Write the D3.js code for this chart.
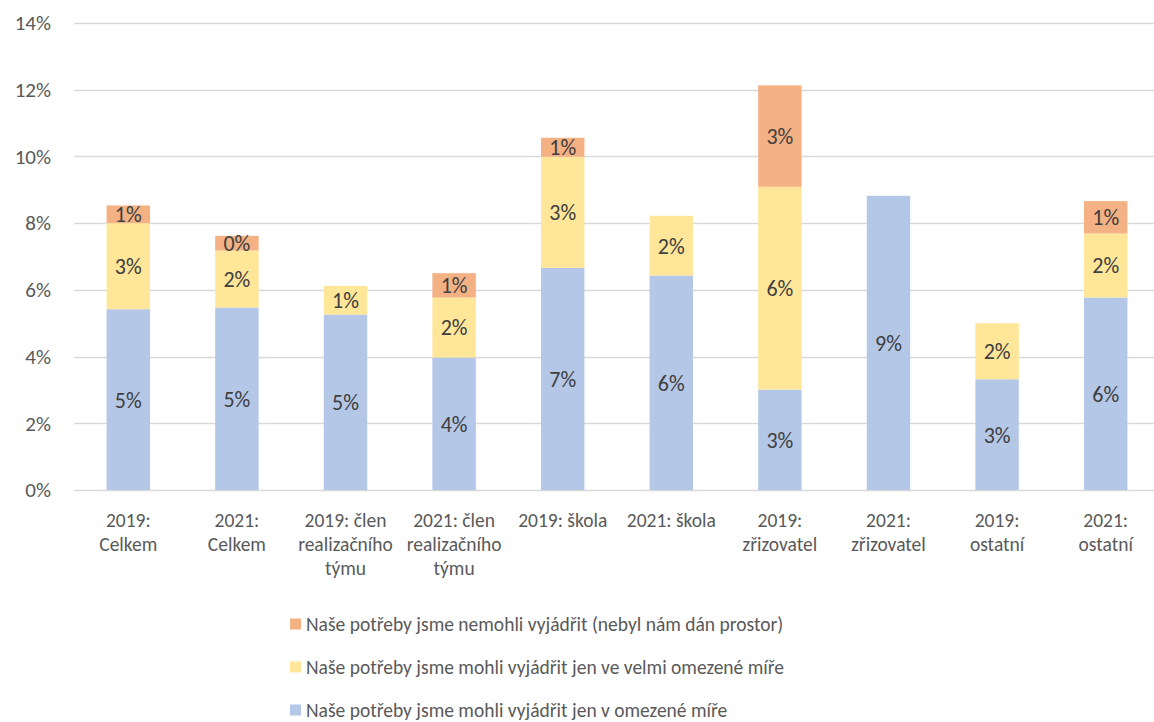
<!DOCTYPE html>
<html>
<head>
<meta charset="utf-8">
<script src="https://cdn.jsdelivr.net/npm/d3@7"></script>
<style>
  body { margin: 0; background: #fff; }
  text { font-family: Carlito, Calibri, Lato, sans-serif; }
</style>
</head>
<body>
<div id="chart"></div>
<script>
// categories (x axis), "\n" marks where the label wraps
var categories = ["2019:\nCelkem", "2021:\nCelkem", "2019: člen\nrealizačního\ntýmu", "2021: člen\nrealizačního\ntýmu",
  "2019: škola", "2021: škola", "2019:\nzřizovatel", "2021:\nzřizovatel", "2019:\nostatní", "2021:\nostatní"];

// series, values in %
var omezene      = [5.42, 5.47, 5.26, 3.97, 6.66, 6.43, 3.01, 8.82, 3.32, 5.77];
var velmiOmezene = [2.58, 1.71, 0.86, 1.80, 3.33, 1.79, 6.08, 0,    1.68, 1.92];
var nemohli      = [0.53, 0.44, 0,    0.73, 0.57, 0,    3.04, 0,    0,    0.97];

var seriesNames = [
  "Naše potřeby jsme mohli vyjádřit jen v omezené míře",
  "Naše potřeby jsme mohli vyjádřit jen ve velmi omezené míře",
  "Naše potřeby jsme nemohli vyjádřit (nebyl nám dán prostor)"
];
var yTicks = [0, 2, 4, 6, 8, 10, 12, 14];

var colors = ["#B4C7E7", "#FFE699", "#F4B183"];

var width = 1154, height = 722;

var svg = d3.select("#chart").append("svg")
  .attr("width", width)
  .attr("height", height);

var table = categories.map(function(c, i) {
  return {cat: c, s0: omezene[i], s1: velmiOmezene[i], s2: nemohli[i]};
});
var keys = ["s0", "s1", "s2"];
var stacked = d3.stack().keys(keys)(table);

var x = d3.scaleBand()
  .domain(categories)
  .range([74, 1160])
  .paddingInner(0.6)
  .paddingOuter(0.3);

var y = d3.scaleLinear()
  .domain([0, 14])
  .range([490, 23]);

// gridlines
svg.append("g")
  .selectAll("line")
  .data(yTicks)
  .enter()
  .append("line")
    .attr("x1", 74)
    .attr("x2", 1160)
    .attr("y1", function(d) { return Math.round(y(d)) + 0.5; })
    .attr("y2", function(d) { return Math.round(y(d)) + 0.5; })
    .attr("stroke", "#D9D9D9")
    .attr("stroke-width", 1.3);

// y labels
svg.append("g")
  .selectAll("text")
  .data(yTicks)
  .enter()
  .append("text")
    .attr("x", 51)
    .attr("y", function(d) { return y(d); })
    .attr("dy", "0.35em")
    .attr("text-anchor", "end")
    .attr("fill", "#595959")
    .style("font-size", "21px")
    .text(function(d) { return d + "%"; });

// bars
var layer = svg.append("g")
  .selectAll("g")
  .data(stacked)
  .enter()
  .append("g")
    .attr("fill", function(d, i) { return colors[i]; });

layer.selectAll("rect")
  .data(function(d) { return d; })
  .enter()
  .append("rect")
    .attr("x", function(d) { return x(d.data.cat); })
    .attr("width", x.bandwidth())
    .attr("y", function(d) { return y(d[1]); })
    .attr("height", function(d) { return y(d[0]) - y(d[1]); });

// data labels on non-empty segments
layer.selectAll("text")
  .data(function(d) { return d.filter(function(p) { return p[1] - p[0] > 0; }); })
  .enter()
  .append("text")
    .attr("x", function(d) { return x(d.data.cat) + x.bandwidth() / 2; })
    .attr("y", function(d) { return (y(d[0]) + y(d[1])) / 2; })
    .attr("dy", "0.36em")
    .attr("text-anchor", "middle")
    .attr("fill", "#404040")
    .style("font-size", "22px")
    .text(function(d) { return Math.round(d[1] - d[0]) + "%"; });

// x labels
svg.append("g")
  .selectAll("text")
  .data(categories)
  .enter()
  .append("text")
    .attr("text-anchor", "middle")
    .attr("fill", "#595959")
    .style("font-size", "19.5px")
    .attr("y", 527)
  .each(function(d) {
    var t = d3.select(this), cx = x(d) + x.bandwidth() / 2;
    d.split("\n").forEach(function(l, i) {
      t.append("tspan").attr("x", cx).attr("dy", i ? 24 : 0).text(l);
    });
  });

// legend
var legendOrder = [2, 1, 0];
var lg = svg.append("g")
  .selectAll("g")
  .data(legendOrder)
  .enter()
  .append("g")
    .attr("transform", function(d, i) { return "translate(290," + (624 + i * 43) + ")"; });

lg.append("rect")
  .attr("x", 0)
  .attr("y", -5.5)
  .attr("width", 11)
  .attr("height", 11)
  .attr("fill", function(d) { return colors[d]; });

lg.append("text")
  .attr("x", 16)
  .attr("dy", "0.35em")
  .attr("fill", "#595959")
  .style("font-size", "19.5px")
  .text(function(d) { return seriesNames[d]; });
</script>
</body>
</html>
